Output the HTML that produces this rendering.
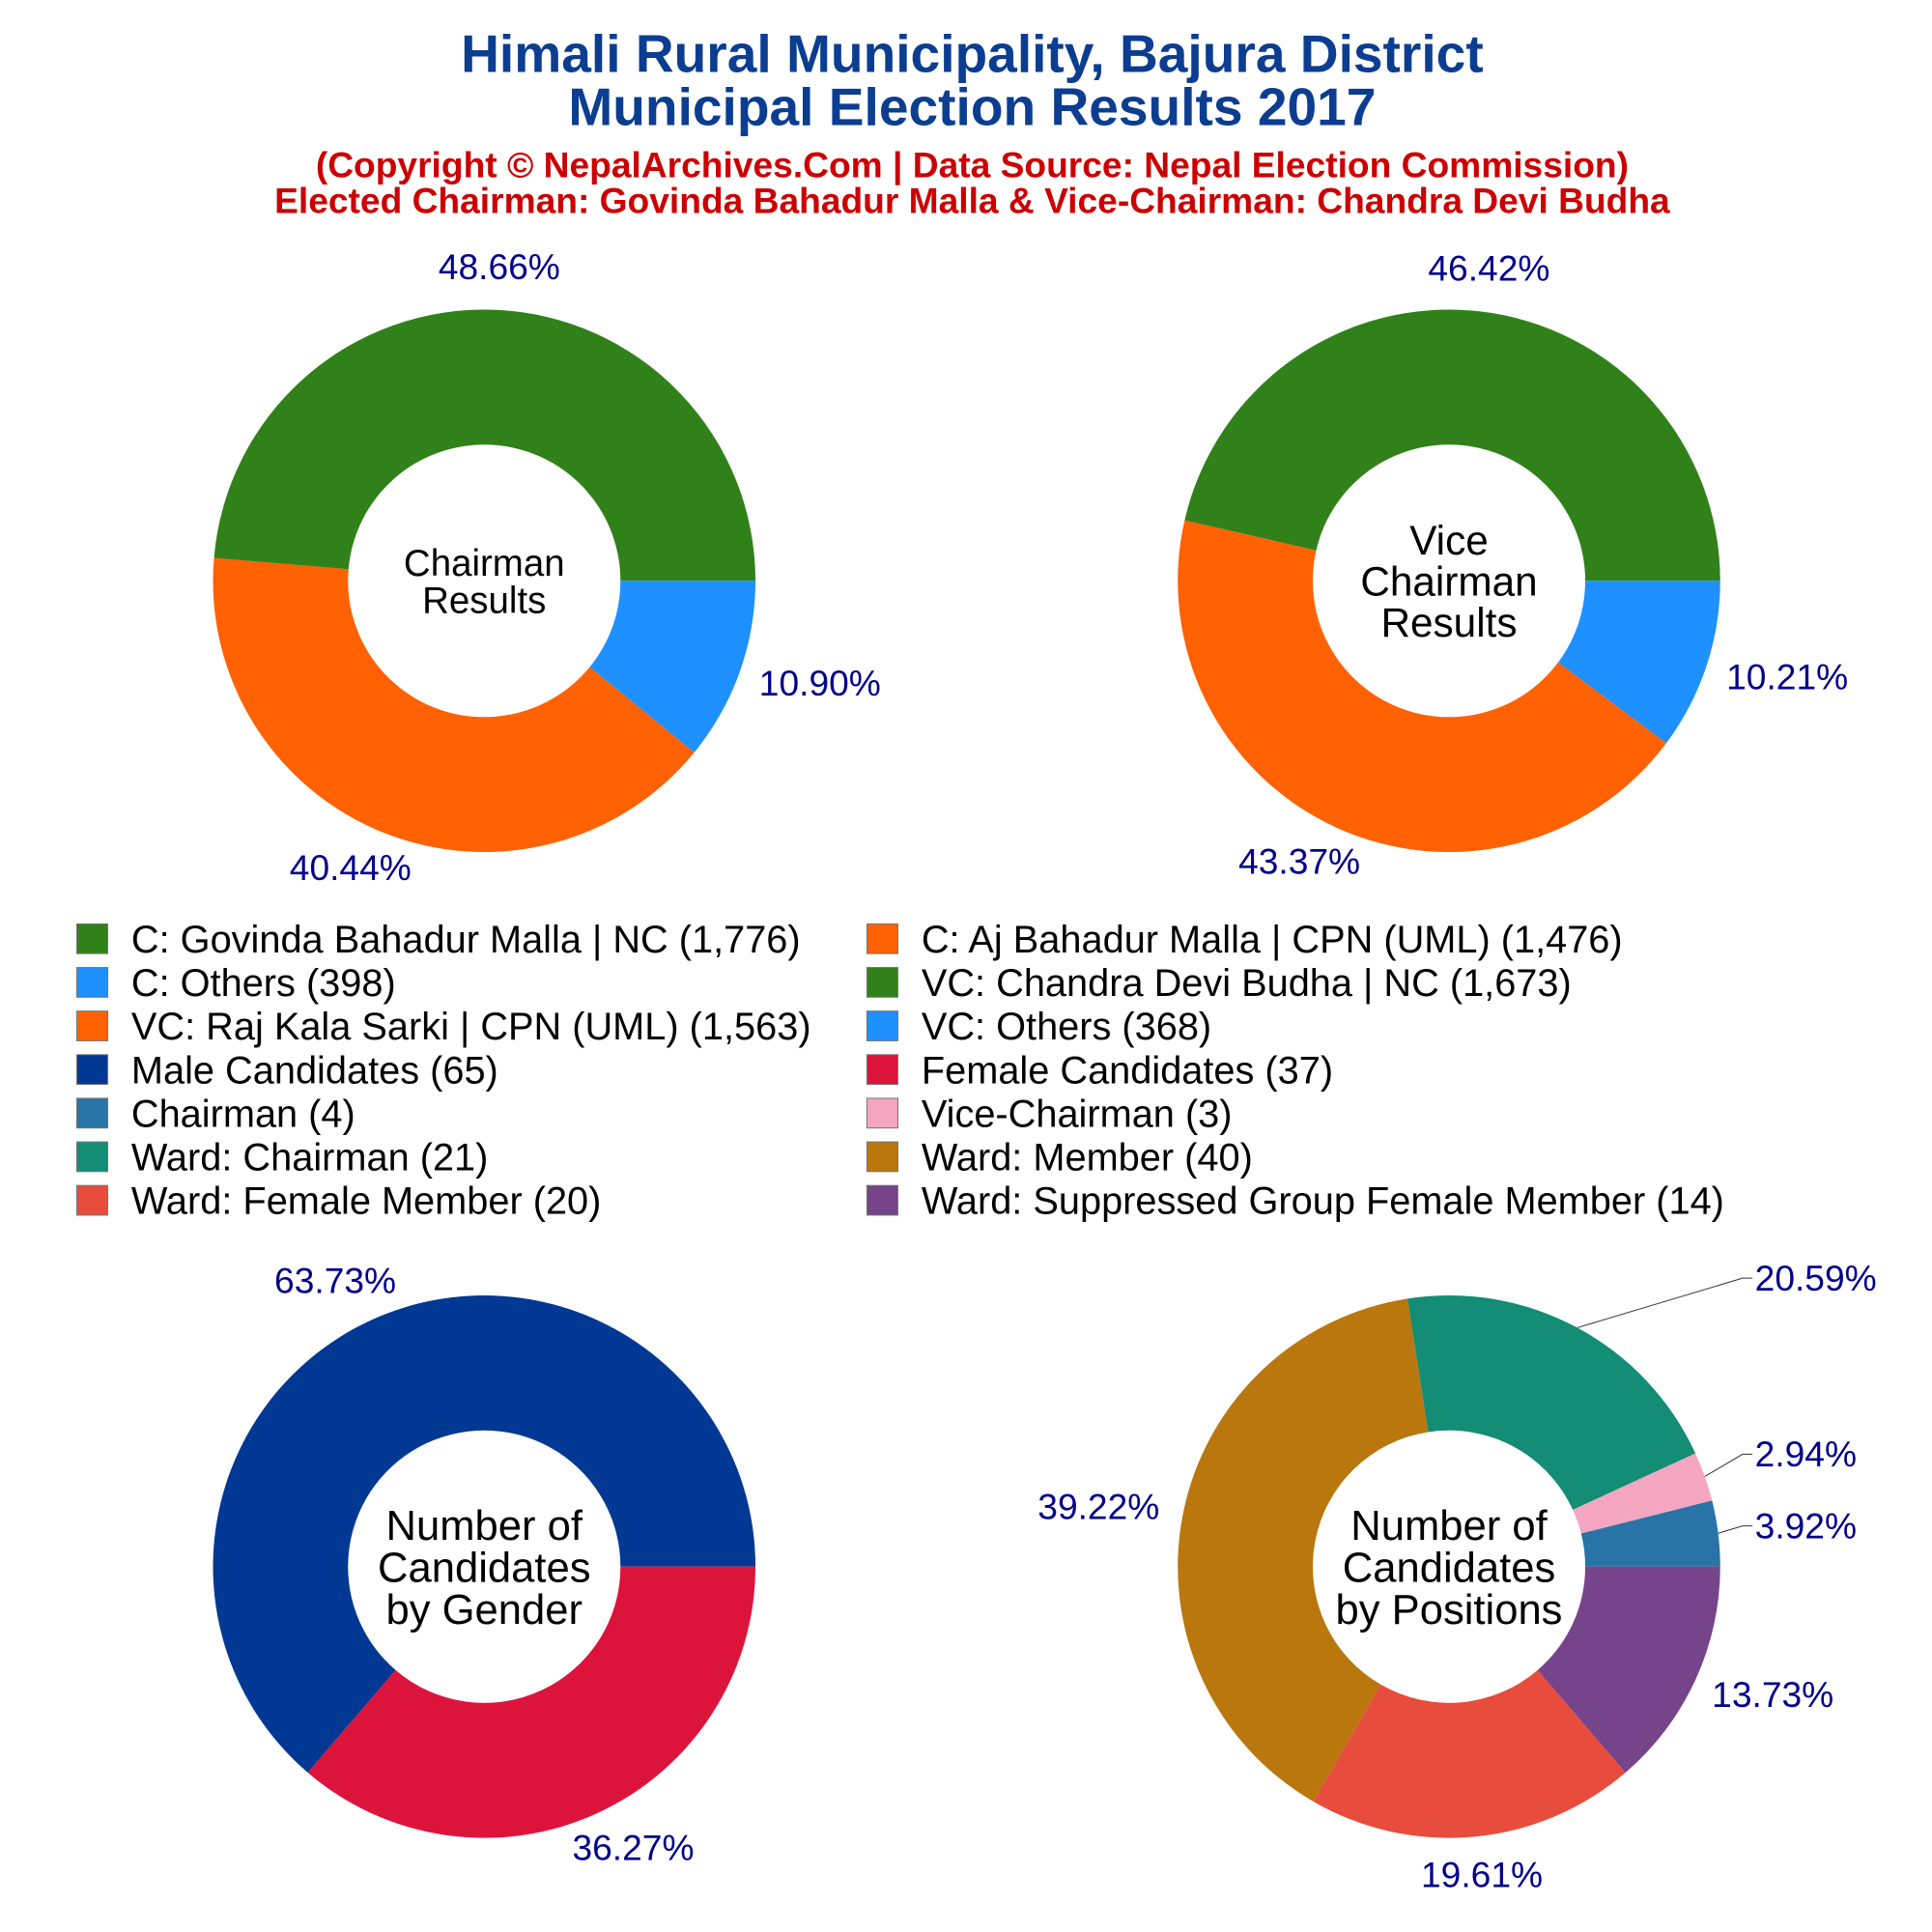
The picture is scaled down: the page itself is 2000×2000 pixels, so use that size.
<!DOCTYPE html>
<html><head><meta charset="utf-8"><style>
html,body{margin:0;padding:0;background:#fff;}
svg{display:block;font-family:"Liberation Sans",Arial,sans-serif;}
</style></head><body>
<svg id="root" width="2000" height="2000" viewBox="0 0 1560 1560" xmlns="http://www.w3.org/2000/svg">
<rect width="1560" height="1560" fill="#fff"/>
<g font-weight="bold" fill="#0B3D91" font-size="43" text-anchor="middle">
<text x="785" y="58">Himali Rural Municipality, Bajura District</text>
<text x="785" y="101">Municipal Election Results 2017</text>
</g>
<g font-weight="bold" fill="#CC0000" font-size="29" text-anchor="middle">
<text x="785" y="143">(Copyright © NepalArchives.Com | Data Source: Nepal Election Commission)</text>
<text x="785" y="172">Elected Chairman: Govinda Bahadur Malla &amp; Vice-Chairman: Chandra Devi Budha</text>
</g>
<g id="charts"></g>
<g id="legend"></g>
</svg>
<script>
const chairmanValues = [1776, 1476, 398];
const chairmanColors = ["#31811A", "#FF6103", "#1E90FF"];
const viceValues = [1673, 1563, 368];
const viceColors = ["#31811A", "#FF6103", "#1E90FF"];
const genderValues = [65, 37];
const genderColors = ["#003893", "#DC143C"];
const positionValues = [4, 3, 21, 40, 20, 14];
const positionColors = ["#2874A6", "#F4A6C1", "#138D75", "#B9770E", "#E74C3C", "#76448A"];
const legendLabels = [
 "C: Govinda Bahadur Malla | NC (1,776)","C: Aj Bahadur Malla | CPN (UML) (1,476)",
 "C: Others (398)","VC: Chandra Devi Budha | NC (1,673)",
 "VC: Raj Kala Sarki | CPN (UML) (1,563)","VC: Others (368)",
 "Male Candidates (65)","Female Candidates (37)",
 "Chairman (4)","Vice-Chairman (3)",
 "Ward: Chairman (21)","Ward: Member (40)",
 "Ward: Female Member (20)","Ward: Suppressed Group Female Member (14)"];
const legendColors = ["#31811A","#FF6103","#1E90FF","#31811A","#FF6103","#1E90FF","#003893","#DC143C","#2874A6","#F4A6C1","#138D75","#B9770E","#E74C3C","#76448A"];

const NS="http://www.w3.org/2000/svg";
function mk(tag, attrs, parent){const e=document.createElementNS(NS,tag);for(const k in attrs)e.setAttribute(k,attrs[k]);parent.appendChild(e);return e;}
const charts=document.getElementById('charts');
const R=219, r=110;
function pt(cx,cy,rad,a){return [cx+rad*Math.cos(a), cy-rad*Math.sin(a)];}
function donut(name, cx, cy, values, colors, centerLines, centerSize, leaderIdx, nudges){
  const g=mk('g',{},charts);
  
  
  const total=values.reduce((a,b)=>a+b,0);
  let cum=0;
  values.forEach((v,i)=>{
    const a0=cum/total*2*Math.PI; cum+=v; const a1=cum/total*2*Math.PI;
    const large=(a1-a0)>Math.PI?1:0;
    const p0=pt(cx,cy,R,a0),p1=pt(cx,cy,R,a1),q1=pt(cx,cy,r,a1),q0=pt(cx,cy,r,a0);
    const d=`M${p0[0]},${p0[1]} A${R},${R} 0 ${large} 0 ${p1[0]},${p1[1]} L${q1[0]},${q1[1]} A${r},${r} 0 ${large} 1 ${q0[0]},${q0[1]} Z`;
    const p=mk('path',{d:d,fill:colors[i]},g);
    
    
    const mid=(a0+a1)/2;
    const pct=(v/total*100).toFixed(2)+'%';
    let t;
    if(leaderIdx && leaderIdx.includes(i)){
      const s=pt(cx,cy,R*1.0,mid);
      const ly=s[1]+nudges[i];
      const lx=cx+R+18;
      const ln=mk('path',{d:`M${s[0]},${s[1]} L${lx},${ly} L${lx+8},${ly}`,stroke:'#333',fill:'none','stroke-width':0.8},g);
      
      
      t=mk('text',{x:lx+10,y:ly+10,'font-size':29,fill:'#00008B'},g);
    } else {
      const lx=cx+R*1.2*Math.cos(mid), lyy=cy-R*1.15*Math.sin(mid);
      t=mk('text',{x:lx+Math.cos(mid)*25,y:lyy+8,'font-size':29,fill:'#00008B','text-anchor':'middle'},g);
    }
    t.textContent=pct;
    
    
  });
  const n=centerLines.length, lh=centerSize*1.0;
  centerLines.forEach((s,i)=>{
    const t=mk('text',{x:cx,y:cy-(n-1)*lh/2+i*lh+centerSize*0.36,'font-size':centerSize,'text-anchor':'middle',fill:'#000'},g);
    t.textContent=s;
    
    
  });
}
donut('chairman-donut',391,469,chairmanValues,chairmanColors,['Chairman','Results'],30);
donut('vice-chairman-donut',1170,469,viceValues,viceColors,['Vice','Chairman','Results'],33);
donut('gender-donut',391,1265,genderValues,genderColors,['Number of','Candidates','by Gender'],34);
donut('positions-donut',1170,1265,positionValues,positionColors,['Number of','Candidates','by Positions'],34,[0,1,2],[-6,-18,-40]);

const lg=document.getElementById('legend');
legendLabels.forEach((lab,i)=>{
  const col=i%2,row=Math.floor(i/2);
  const x=col?700:62, y=758+row*35.2;
  const sq=mk('rect',{x:x,y:y-12,width:25,height:24,fill:legendColors[i],stroke:'#777','stroke-width':0.8},lg);
  
  
  const t=mk('text',{x:x+44,y:y+11,'font-size':31,fill:'#000'},lg);
  t.textContent=lab;
  
  
});
</script>
</body></html>
